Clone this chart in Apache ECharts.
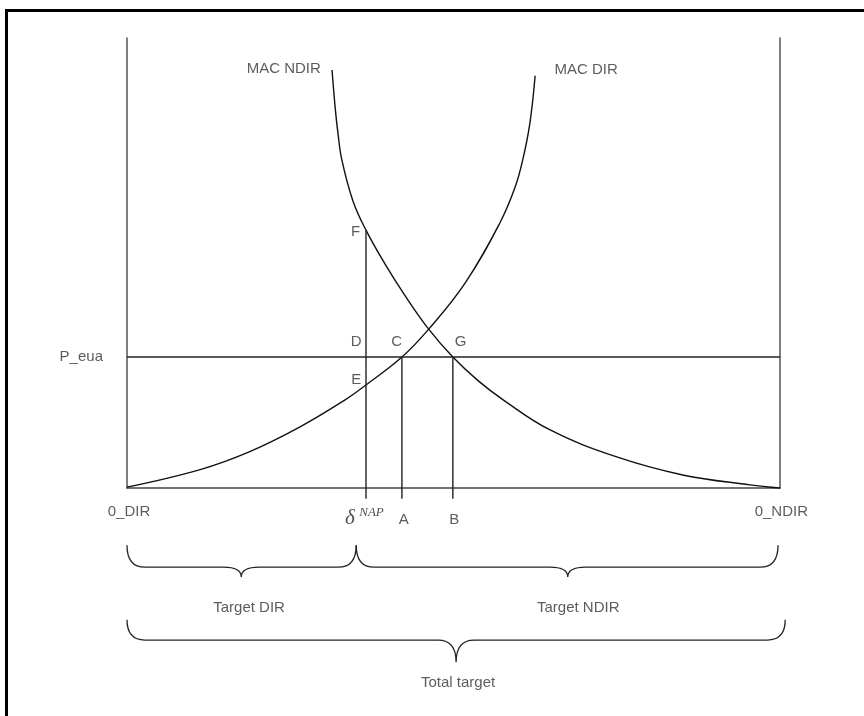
<!DOCTYPE html>
<html>
<head>
<meta charset="utf-8">
<script src="https://cdn.jsdelivr.net/npm/echarts@6/dist/echarts.min.js"></script>
<style>
html,body{margin:0;padding:0;background:#fff;}
#chart{position:absolute;left:0;top:0;width:864px;height:716px;}
#frame{position:absolute;left:5px;top:9px;width:870px;height:720px;border-left:3px solid #000;border-top:3px solid #000;pointer-events:none;}
</style>
</head>
<body>
<div id="chart"></div>
<div id="frame"></div>
<script>
// ---- data (x: share of total target, 0..100; y: price/MAC, 0..100) ----
const macDir = [[0,0.2],[11.2,4.1],[18.8,8.1],[26.5,13.6],[33.4,19.6],[36.6,22.9],[42.1,29.1],[46.2,35.3],[51.8,45.6],[57.1,58.9],[59.4,66.7],[60.6,72.9],[61.7,81.1],[62.5,91.6]];
const macNdir = [[31.4,92.9],[31.9,84.2],[32.3,78.9],[32.9,72.9],[34.6,63.8],[36.6,57.3],[39.5,49.8],[42.6,42.7],[46.2,35.3],[49.9,29.1],[53.8,23.8],[57.6,19.6],[64.8,12.9],[75.0,6.9],[85.1,2.9],[95.4,0.7],[100,0]];
const pEua = 29.1;
const deltaNap = 36.6, pointA = 42.1, pointB = 49.9, pointF = 57.3;
const tickBelow = -2.4;
// braces: [xStart, xEnd, xTip, yEnds, yFlat, yTip]
const braces = [[0,35.1,17.5,-12.7,-17.6,-19.8],[35.1,99.7,67.5,-12.7,-17.6,-19.8],[0,100.8,50.4,-29.3,-33.8,-38.7]];
// text labels: [x, y, text]
const letterLabels = [[35.0,56.9,'F'],[35.1,32.4,'D'],[41.3,32.4,'C'],[51.1,32.4,'G'],[35.1,24.0,'E']];
const textLabels = [[-7.0,29.1,'P_eua'],[24.0,93.1,'MAC NDIR'],[70.3,92.9,'MAC DIR'],[0.3,-5.3,'0_DIR'],[100.2,-5.3,'0_NDIR'],[42.4,-7.1,'A'],[50.1,-7.1,'B'],[18.7,-26.7,'Target DIR'],[69.1,-26.7,'Target NDIR'],[50.7,-43.3,'Total target']];
const deltaLabel = [[34.15,-6.67,'δ']];
const napLabel = [[37.44,-5.56,'NAP']];

const chart = echarts.init(document.getElementById('chart'), null, {renderer:'canvas'});
const lineStyle = {color:'#111', width:1.4};
const axisCommon = {min:0, max:100, axisTick:{show:false}, axisLabel:{show:false}, splitLine:{show:false}};
function labelSeries(data, font){
  return {type:'scatter', data:data.map(d=>({value:[d[0],d[1]], name:d[2]})), symbolSize:0, clip:false, silent:true,
    label:Object.assign({show:true, position:'inside', formatter:p=>p.name, color:'#333', fontFamily:'Liberation Sans, Arial, sans-serif', fontSize:15}, font||{})};
}
function segment(x1,y1,x2,y2,color){
  return {type:'line', data:[[x1,y1],[x2,y2]], symbol:'none', clip:false, silent:true, lineStyle:{color:color||'#222', width:1.4}};
}
chart.setOption({
  animation:false,
  backgroundColor:'#fff',
  grid:{left:127, right:84, top:38, bottom:228},
  xAxis:Object.assign({type:'value', axisLine:{show:true, onZero:true, lineStyle:{color:'#444', width:1.5}}}, axisCommon),
  yAxis:[
    Object.assign({type:'value', position:'left', axisLine:{show:true, lineStyle:{color:'#555', width:1.5}}}, axisCommon),
    Object.assign({type:'value', position:'right', axisLine:{show:true, lineStyle:{color:'#555', width:1.5}}}, axisCommon)
  ],
  series:[
    {type:'line', name:'MAC DIR', data:macDir, smooth:0.4, symbol:'none', clip:false, lineStyle:lineStyle},
    {type:'line', name:'MAC NDIR', data:macNdir, smooth:0.4, symbol:'none', clip:false, lineStyle:lineStyle},
    segment(0,pEua,100,pEua,'#222'),
    segment(deltaNap,tickBelow,deltaNap,pointF),
    segment(pointA,tickBelow,pointA,pEua),
    segment(pointB,tickBelow,pointB,pEua),
    {type:'custom', data:braces, clip:false, silent:true, encode:{x:[0,1,2], y:[3,4,5]},
      renderItem:function(params, api){
        const a = api.coord([api.value(0), api.value(3)]);
        const b = api.coord([api.value(1), api.value(4)]);
        const t = api.coord([api.value(2), api.value(5)]);
        const X1=a[0], YT=a[1], X2=b[0], YM=b[1], XT=t[0], YP=t[1];
        const r = 18;
        const d = `M${X1} ${YT} Q${X1} ${YM} ${X1+r} ${YM} L${XT-r} ${YM} Q${XT} ${YM} ${XT} ${YP} Q${XT} ${YM} ${XT+r} ${YM} L${X2-r} ${YM} Q${X2} ${YM} ${X2} ${YT}`;
        return {type:'path', shape:{pathData:d}, style:{fill:null, stroke:'#222', lineWidth:1.3}};
      }},
    labelSeries(letterLabels),
    labelSeries(textLabels),
    labelSeries(deltaLabel, {fontFamily:'Liberation Serif, Times New Roman, serif', fontStyle:'italic', fontSize:21, color:'#222'}),
    labelSeries(napLabel, {fontFamily:'Liberation Serif, Times New Roman, serif', fontStyle:'italic', fontSize:13, color:'#222'})
  ]
});
</script>
</body>
</html>
